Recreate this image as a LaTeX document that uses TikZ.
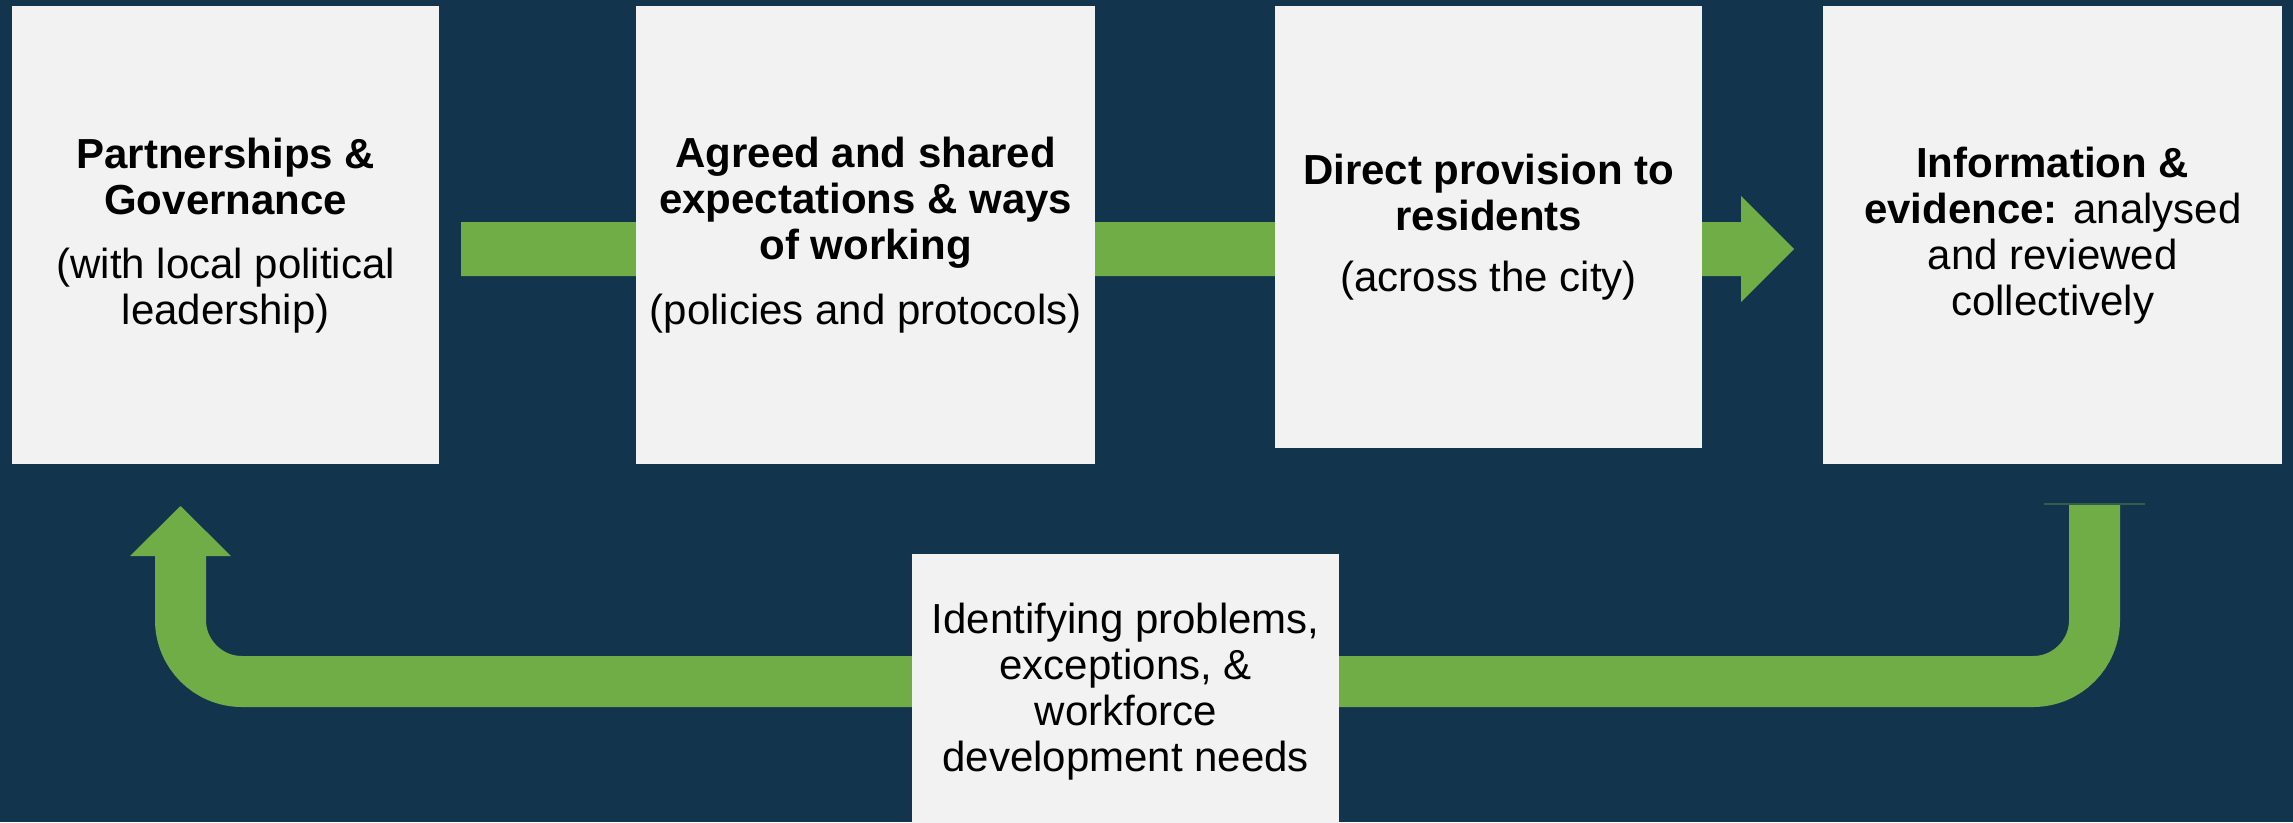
\documentclass[tikz,border=0pt]{standalone}
\usepackage{fontspec}
\setmainfont{Liberation Sans}
\definecolor{bg}{RGB}{19,52,77}
\definecolor{grn}{RGB}{112,173,71}
\definecolor{boxc}{RGB}{242,242,242}
\definecolor{edgegrn}{RGB}{52,92,72}
\begin{document}
\begin{tikzpicture}[x=1pt,y=-1pt,
  panel/.style={fill=boxc, inner sep=0pt, align=center, anchor=north west,
    font=\fontsize{42}{46}\selectfont, text=black},
  band/.style={draw=grn, line width=51pt, rounded corners=61.5pt},
]
\fill[bg] (0,0) rectangle (2293,822);
\useasboundingbox (0,0) rectangle (2293,822);

% top block arrow (behind the boxes)
\coordinate (topA) at (461,222);
\coordinate (topB) at (461,276);
\coordinate (toptip) at (1794,249);
\fill[grn] (topA) -- (1741,222) -- (1741,196) -- (toptip)
  -- (1741,302) -- (1741,276) -- (topB) -- cycle;

% bottom return arrow
\coordinate (retstart) at (2094.5,504);
\coordinate (retend) at (180.5,556);
\coordinate (rettip) at (180.5,506);
\draw[band] (retstart) -- (2094.5,681.5) -- (180.5,681.5) -- (retend);
\fill[grn] (130,556) -- (231,556) -- (rettip) -- cycle;
\draw[edgegrn, line width=1.5pt] (2044,504) -- (2145,504);

% boxes
\node[panel, minimum width=427pt, minimum height=458pt] (pg) at (12,6)
  {\textbf{Partnerships \&}\\\textbf{Governance}\\[18pt](with local political\\leadership)};
\node[panel, minimum width=459pt, minimum height=458pt] (ag) at (636,6)
  {\textbf{Agreed and shared}\\\textbf{expectations \& ways}\\\textbf{of working}\\[19pt](policies and protocols)};
\node[panel, minimum width=427pt, minimum height=442pt] (dp) at (1275,6)
  {\textbf{Direct provision to}\\\textbf{residents}\\[15pt](across the city)};
\node[panel, minimum width=459pt, minimum height=458pt] (ie) at (1823,6)
  {\textbf{Information \&}\\\textbf{evidence:} analysed\\and reviewed\\collectively};
\node[panel, minimum width=427pt, minimum height=274pt] (id) at (912,554)
  {Identifying problems,\\exceptions, \&\\workforce\\development needs};
\end{tikzpicture}
\end{document}
